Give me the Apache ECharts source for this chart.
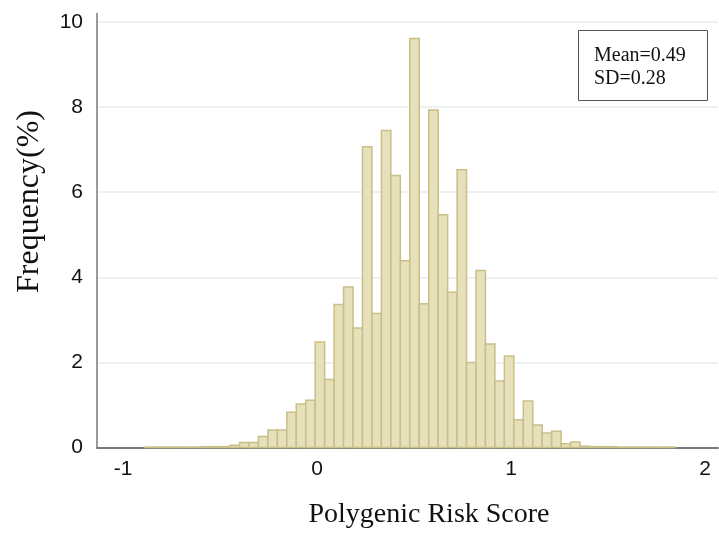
<!DOCTYPE html>
<html>
<head>
<meta charset="utf-8">
<script src="https://cdn.jsdelivr.net/npm/echarts@6/dist/echarts.min.js"></script>
<style>html,body{margin:0;padding:0;background:#fff}#c{width:719px;height:534px}</style>
</head>
<body>
<div id="c"></div>
<script>
// Histogram bins: regular width starting at binStart
const binStart = -0.887;
const binWidth = 0.04876;
const freq = [
  0.01, 0.01, 0.01, 0.01, 0.01, 0.01, 0.02, 0.02, 0.02, 0.05,
  0.12, 0.12, 0.26, 0.41, 0.41, 0.83, 1.02, 1.11, 2.48, 1.60,
  3.36, 3.77, 2.81, 7.07, 3.15, 7.45, 6.39, 4.39, 9.61, 3.38,
  7.93, 5.47, 3.65, 6.53, 2.00, 4.16, 2.43, 1.56, 2.15, 0.65,
  1.09, 0.53, 0.34, 0.38, 0.09, 0.13, 0.03, 0.02, 0.02, 0.02,
  0.01, 0.01, 0.01, 0.01, 0.01, 0.01
];
const xTicks = [-1, 0, 1, 2];
const yTicks = [0, 2, 4, 6, 8, 10];
const statsText = ['Mean=0.49', 'SD=0.28'];

const histData = freq.map((v, i) => [binStart + i * binWidth, binStart + (i + 1) * binWidth, v]);

const chart = echarts.init(document.getElementById('c'));
chart.setOption({
  animation: false,
  grid: { left: 97, right: 1, top: 13.5, bottom: 86.5 },
  xAxis: {
    type: 'value', min: -1.134, max: 2.067,
    name: 'Polygenic Risk Score', nameLocation: 'middle', nameGap: 53,
    nameTextStyle: { fontFamily: 'Liberation Serif', fontSize: 28, color: '#111', padding: [0, 0, 0, 43] },
    axisLine: { show: true, onZero: false, lineStyle: { color: '#7a7a7a', width: 2 } },
    axisTick: { show: false },
    splitLine: { show: false },
    axisLabel: { customValues: xTicks, fontFamily: 'Liberation Sans', fontSize: 21, color: '#111', margin: 11 }
  },
  yAxis: {
    type: 'value', min: 0, max: 10.2, interval: 2,
    name: 'Frequency(%)', nameLocation: 'middle', nameGap: 51,
    nameTextStyle: { fontFamily: 'Liberation Serif', fontSize: 32, color: '#111', padding: [0, 0, 0, 58] },
    axisLine: { show: true, onZero: false, lineStyle: { color: '#7a7a7a', width: 1.5 } },
    axisTick: { show: false },
    splitLine: { show: true, lineStyle: { color: ['rgba(0,0,0,0)', '#e9edee', '#e9edee', '#e9edee', '#e9edee', '#e9edee', 'rgba(0,0,0,0)'], width: 1.5 } },
    axisLabel: { customValues: yTicks, fontFamily: 'Liberation Sans', fontSize: 21, color: '#111', margin: 14 }
  },
  graphic: [
    { type: 'rect', left: 578, top: 30, shape: { width: 129, height: 70 }, style: { fill: '#fff', stroke: '#555', lineWidth: 1 }, z: 10 },
    { type: 'text', left: 594, top: 46, style: { text: statsText[0], font: '20px "Liberation Serif"', fill: '#111' }, z: 11 },
    { type: 'text', left: 594, top: 69, style: { text: statsText[1], font: '20px "Liberation Serif"', fill: '#111' }, z: 11 }
  ],
  series: [{
    type: 'custom',
    data: histData,
    encode: { x: [0, 1], y: 2 },
    renderItem: function (params, api) {
      const a = api.coord([api.value(0), 0]);
      const b = api.coord([api.value(1), api.value(2)]);
      return {
        type: 'rect',
        shape: { x: a[0], y: b[1], width: b[0] - a[0], height: a[1] - b[1] },
        style: { fill: '#e6e0bb', stroke: '#c9bf88', lineWidth: 1.5 }
      };
    }
  }]
});
</script>
</body>
</html>
